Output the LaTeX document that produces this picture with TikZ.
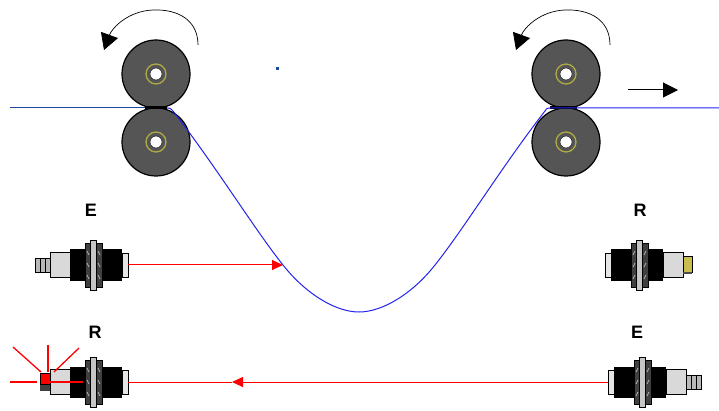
\documentclass[tikz,border=0pt]{standalone}
\usepackage{fontspec}
\setmainfont{Liberation Sans}
\usetikzlibrary{arrows.meta}

\definecolor{roller}{RGB}{85,85,85}
\definecolor{hubring}{RGB}{175,170,70}
\definecolor{webdark}{RGB}{25,75,160}
\definecolor{web}{RGB}{35,35,235}
\definecolor{beam}{RGB}{255,0,0}
\definecolor{capyellow}{RGB}{200,190,80}

\tikzset{
  rollerdisc/.style={circle, draw=black, line width=1.2pt, fill=roller, minimum size=68pt, inner sep=0pt},
  lbl/.style={font=\bfseries\fontsize{18}{18}\selectfont, inner sep=0pt},
  webline/.style={line width=1pt},
  beamline/.style={beam, line width=1pt},
  turnarrow/.style={black, line width=0.7pt, -{Triangle[length=16pt,width=18pt]}},
  feedarrow/.style={black, line width=1pt, -{Triangle[length=15pt,width=15pt]}},
  beamarrow/.style={beam, line width=1pt, -{Triangle[length=11pt,width=10pt]}},
  texture/.style={fill=gray!30, draw=black, line width=0.6pt},
}

% sensor housing, lens at the local origin, body towards negative x
\newcommand\sensorhousing{%
  \fill[black] (-58,-15.5) rectangle (-6,15.5);
  \draw[texture] (-78,-12.5) rectangle (-58,12.5);
  \draw[fill=black!75, draw=black, line width=0.6pt] (-43,-22) rectangle (-26,22);
  \draw[fill=gray!45, draw=black, line width=0.6pt] (-37.5,-25) rectangle (-31.5,25);
  \draw[gray!60, line width=0.8pt] (-41,-14) -- (-39,-10) (-41,-2) -- (-39,2) (-41,10) -- (-39,14)
                                  (-30,-14) -- (-28,-10) (-30,-2) -- (-28,2) (-30,10) -- (-28,14);
  \draw[fill=gray!20, draw=black, line width=0.6pt] (-6,-12) rectangle (0,12);
}
\newcommand\cablestub{%
  \draw[fill=gray!55, draw=black, line width=0.6pt] (-93,-7) rectangle (-78,7);
  \draw[black, line width=0.6pt] (-88,-7) -- (-88,7) (-83,-7) -- (-83,7);
}
\newcommand\rollerhub[1]{%
  \draw[hubring, line width=1.3pt] (#1) circle (10pt);
  \draw[fill=white, draw=black, line width=0.4pt] (#1) circle (6pt);
}

\begin{document}
\begin{tikzpicture}[x=1pt, y=-1pt]
  \useasboundingbox (0,0) rectangle (719,411);

  % nip rollers
  \node[rollerdisc] (rollTL) at (156,74) {};
  \node[rollerdisc] (rollBL) at (156,142) {};
  \node[rollerdisc] (rollTR) at (566,74) {};
  \node[rollerdisc] (rollBR) at (566,142) {};
  \rollerhub{rollTL}
  \rollerhub{rollBL}
  \rollerhub{rollTR}
  \rollerhub{rollBR}

  % web path
  \coordinate (webIn) at (10,108);
  \coordinate (nipL) at (167,108);
  \coordinate (nipR) at (550,108);
  \coordinate (webOut) at (719,108);
  \draw[webdark, webline] (webIn) -- (nipL);
  \fill[black] (145,106.5) rectangle (167,109.5);
  \fill[black] (550,106.5) rectangle (577,109.5);
  \draw[web, webline] (nipL) .. controls (170,108) .. (173,111)
    .. controls (215,165) and (255,230) .. (283,265)
    .. controls (305,293) and (335,312) .. (359,312)
    .. controls (383,312) and (413,293) .. (435,265)
    .. controls (463,230) and (503,165) .. (545,111)
    .. controls (547,108) .. (nipR) -- (webOut);
  \fill[webdark] (276,67) rectangle (279,70);

  % direction of rotation and of feed
  \draw[turnarrow] (198,45) .. controls (198,20) and (178,9) .. (153,10)
    .. controls (128,11) and (112,28) .. (104,50);
  \draw[turnarrow] (610,45) .. controls (610,20) and (590,9) .. (565,10)
    .. controls (540,11) and (524,28) .. (516,50);
  \coordinate (feedA) at (628,90);
  \coordinate (feedB) at (678,90);
  \draw[feedarrow] (feedA) -- (feedB);

  % upper pair: emitter left, receiver right
  \begin{scope}[shift={(128,265)}]
    \sensorhousing
    \cablestub
  \end{scope}
  \coordinate (emitTop) at (128,265);
  \coordinate (hitTop) at (283,265);
  \node[lbl] (labE1) at (91,210) {E};

  \begin{scope}[shift={(605,265)}, xscale=-1]
    \sensorhousing
    \draw[fill=capyellow, draw=black, line width=0.6pt] (-87,-9) rectangle (-78,7);
    \fill[black!70] (-87,7) rectangle (-78,9);
  \end{scope}
  \node[lbl] (labR1) at (640,210) {R};

  \draw[beamarrow] (emitTop) -- (hitTop);

  % lower pair: receiver left (lit), emitter right
  \begin{scope}[shift={(128,382)}]
    \sensorhousing
    \fill[black!75] (-88,2) rectangle (-78,9);
    \draw[fill=beam, draw=black, line width=0.5pt] (-88,-9) rectangle (-78,2);
  \end{scope}
  \coordinate (recvBot) at (128,382);
  \node[lbl] (labR2) at (95,332) {R};

  \begin{scope}[shift={(608,382)}, xscale=-1]
    \sensorhousing
    \cablestub
  \end{scope}
  \coordinate (emitBot) at (608,382);
  \coordinate (beamMid) at (232,382);
  \node[lbl] (labE2) at (637,332) {E};

  \draw[beamarrow] (emitBot) -- (beamMid);
  \draw[beamline] (beamMid) -- (recvBot);

  % indicator lamp rays
  \draw[beamline, line width=1.3pt] (10,382) -- (37,382);
  \draw[beamline, line width=1.3pt] (50,382) -- (83,382);
  \draw[beamline, line width=1.3pt] (48,345) -- (48,372);
  \draw[beamline, line width=1.3pt] (13,347) -- (41,372);
  \draw[beamline, line width=1.3pt] (79,348) -- (54,372);
\end{tikzpicture}
\end{document}
